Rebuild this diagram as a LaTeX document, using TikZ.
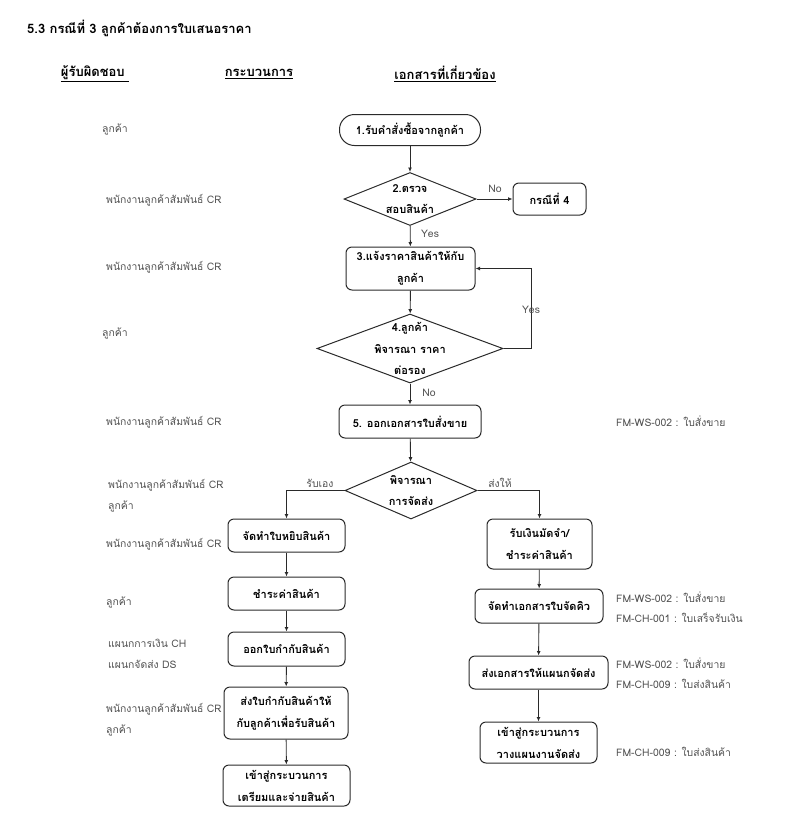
\documentclass[tikz,border=0pt]{standalone}
\usepackage{fontspec}
\setmainfont{Loma}[Script=Thai]
\usetikzlibrary{shapes.geometric,arrows.meta}
\definecolor{lab}{HTML}{505050}
\definecolor{ln}{HTML}{2a2a2a}
\begin{document}
\begin{tikzpicture}[x=1pt,y=-1pt,
  proc/.style={draw=ln, line width=1pt, rounded corners=6pt, align=center,
    font=\bfseries\fontsize{11}{22}\selectfont, inner sep=0pt},
  dec/.style={draw=ln, line width=1pt, diamond, inner sep=0pt},
  dectext/.style={align=center, font=\bfseries\fontsize{11}{21.5}\selectfont, inner sep=0pt},
  lab/.style={anchor=west, inner sep=0pt, text=lab, font=\fontsize{10.4}{21}\selectfont, align=left},
  doc/.style={anchor=west, inner sep=0pt, text=lab, font=\fontsize{10.4}{20}\selectfont, align=left},
  small/.style={inner sep=0pt, text=lab, font=\fontsize{10.4}{12}\selectfont},
  head/.style={inner sep=0pt, font=\bfseries\fontsize{13}{15}\selectfont},
  arr/.style={draw=ln, line width=0.9pt, -{Latex[length=4.5pt,width=4pt]}},
  ln/.style={draw=ln, line width=0.9pt}
]
\useasboundingbox (0,0) rectangle (785,823);

% title and headers
\node[head, anchor=west] (title) at (27,28) {5.3 กรณีที่ 3 ลูกค้าต้องการใบเสนอราคา};
\node[head] (h1) at (95,74) {\underline{ผู้รับผิดชอบ\ }};
\node[head] (h2) at (259,74) {\underline{กระบวนการ}};
\node[head] (h3) at (445,74) {\underline{เอกสารที่เกี่ยวข้อง}};

% main column
\node[proc, rounded corners=15pt, minimum width=141, minimum height=31] (n1) at (410,130) {1.รับคำสั่งซื้อจากลูกค้า};
\node[dec, minimum width=132, minimum height=53] (d2) at (410,199) {};
\node[dectext] (d2t) at (d2) {2.ตรวจ\\สอบสินค้า};
\node[proc, minimum width=73, minimum height=32] (c4) at (549.5,199) {กรณีที่ 4};
\node[proc, minimum width=129, minimum height=43] (n3) at (410.5,268.5) {3.แจ้งราคาสินค้าให้กับ\\ลูกค้า};
\node[dec, minimum width=186, minimum height=69] (d4) at (410,348.5) {};
\node[dectext] (d4t) at (d4) {4.ลูกค้า\\พิจารณา ราคา\\ต่อรอง};
\node[proc, minimum width=142, minimum height=33] (n5) at (410,421.5) {5. ออกเอกสารใบสั่งขาย};
\node[dec, minimum width=132, minimum height=57] (d6) at (411,490.5) {};
\node[dectext] (d6t) at (d6) {พิจารณา\\การจัดส่ง};

% left branch
\node[proc, minimum width=117, minimum height=33] (l1) at (286.5,535.5) {จัดทำใบหยิบสินค้า};
\node[proc, minimum width=117, minimum height=33] (l2) at (286.5,593.5) {ชำระค่าสินค้า};
\node[proc, minimum width=117, minimum height=34] (l3) at (286.5,649) {ออกใบกำกับสินค้า};
\node[proc, minimum width=124, minimum height=52] (l4) at (286,713) {ส่งใบกำกับสินค้าให้\\กับลูกค้าเพื่อรับสินค้า};
\node[proc, minimum width=127, minimum height=41] (l5) at (286.5,785.5) {เข้าสู่กระบวนการ\\เตรียมและจ่ายสินค้า};

% right branch
\node[proc, minimum width=105, minimum height=50] (r1) at (539.5,544) {รับเงินมัดจำ/\\ชำระค่าสินค้า};
\node[proc, minimum width=128, minimum height=34] (r2) at (539,606) {จัดทำเอกสารใบจัดคิว};
\node[proc, minimum width=139, minimum height=33] (r3) at (538.5,672.5) {ส่งเอกสารให้แผนกจัดส่ง};
\node[proc, minimum width=117, minimum height=41] (r4) at (538.5,742.5) {เข้าสู่กระบวนการ\\วางแผนงานจัดส่ง};

% connectors
\coordinate (loopA) at (531,348.5);
\coordinate (loopB) at (531,268.5);
\coordinate (lft) at (286.5,490.5);
\coordinate (rgt) at (539.5,490.5);
\draw[arr] (n1) -- (d2);
\draw[arr] (d2.east) -- (c4.west);
\draw[arr] (d2) -- (n3);
\draw[arr] (n3) -- (d4);
\draw[arr] (d4.east) -- (loopA) -- (loopB) -- (n3.east);
\draw[arr] (d4) -- (n5);
\draw[arr] (n5) -- (d6);
\draw[arr] (d6.west) -- (lft) -- (l1.north);
\draw[arr] (d6.east) -- (rgt) -- (r1.north);
\draw[arr] (l1) -- (l2);
\draw[arr] (l2) -- (l3);
\draw[arr] (l3) -- (l4);
\draw[arr] (l4) -- (l5);
\draw[arr] (r1) -- (r2);
\draw[arr] (r2) -- (r3);
\draw[arr] (r3) -- (r4);

% connector labels
\node[small] (no1) at (495,189) {No};
\node[small] (yes1) at (430,234) {Yes};
\node[small] (yes2) at (531,310) {Yes};
\node[small] (no2) at (429,393) {No};
\node[small] (self) at (320,483) {รับเอง};
\node[small] (deliv) at (500,483) {ส่งให้};

% responsible
\node[lab] (a1) at (102,130) {ลูกค้า};
\node[lab] (a2) at (106,200) {พนักงานลูกค้าสัมพันธ์ CR};
\node[lab] (a3) at (106,267) {พนักงานลูกค้าสัมพันธ์ CR};
\node[lab] (a4) at (102,334) {ลูกค้า};
\node[lab] (a5) at (106,422) {พนักงานลูกค้าสัมพันธ์ CR};
\node[lab] (a6) at (108,496) {พนักงานลูกค้าสัมพันธ์ CR\\ลูกค้า};
\node[lab] (a7) at (106,544) {พนักงานลูกค้าสัมพันธ์ CR};
\node[lab] (a8) at (106,603) {ลูกค้า};
\node[lab] (a9) at (108,654) {แผนกการเงิน CH\\แผนกจัดส่ง DS};
\node[lab] (a10) at (106,720) {พนักงานลูกค้าสัมพันธ์ CR\\ลูกค้า};

% documents
\node[doc] (dc1) at (616,421) {FM-WS-002 : ใบสั่งขาย};
\node[doc] (dc2) at (616,607) {FM-WS-002 : ใบสั่งขาย\\FM-CH-001 : ใบเสร็จรับเงิน};
\node[doc] (dc3) at (616,673) {FM-WS-002 : ใบสั่งขาย\\FM-CH-009 : ใบส่งสินค้า};
\node[doc] (dc4) at (616,752) {FM-CH-009 : ใบส่งสินค้า};
\end{tikzpicture}
\end{document}
